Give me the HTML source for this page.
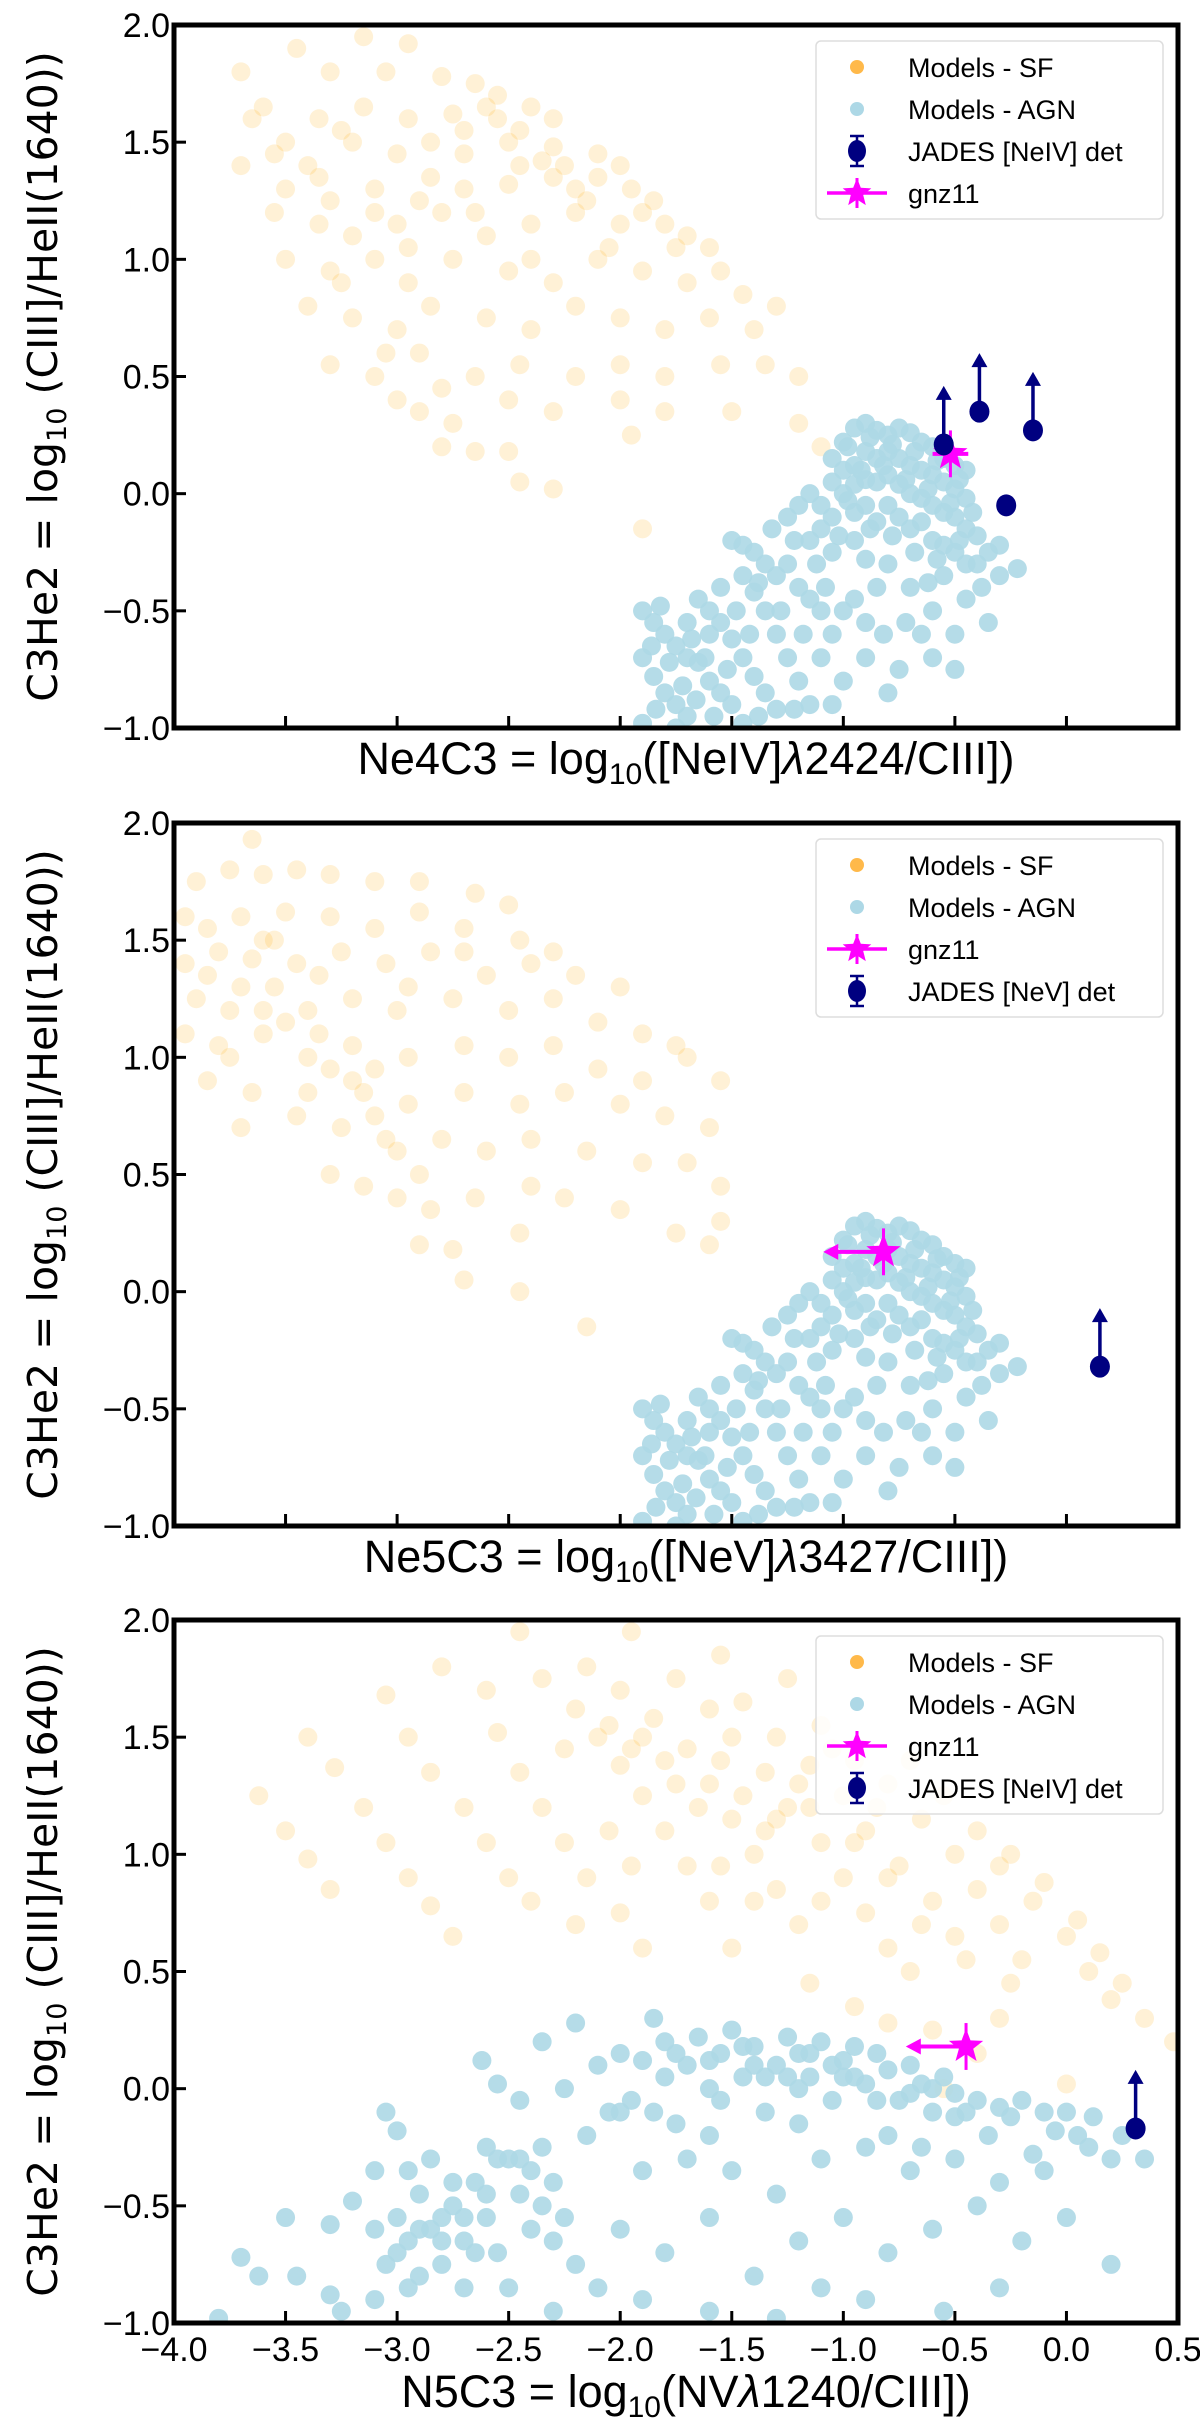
<!DOCTYPE html>
<html><head><meta charset="utf-8"><style>
html,body{margin:0;padding:0;background:#fff;}
svg{display:block;}
</style></head><body>
<svg id="fig" width="1200" height="2426" viewBox="0 0 1200 2426" xmlns="http://www.w3.org/2000/svg"></svg>
<script>
// ---- data (x, y in data units) ----
const xTicks = [-4.0,-3.5,-3.0,-2.5,-2.0,-1.5,-1.0,-0.5,0.0,0.5];
const yTicks = [-1.0,-0.5,0.0,0.5,1.0,1.5,2.0];
const xTickLabels = ["\u22124.0","\u22123.5","\u22123.0","\u22122.5","\u22122.0","\u22121.5","\u22121.0","\u22120.5","0.0","0.5"];
const yTickLabels = ["\u22121.0","\u22120.5","0.0","0.5","1.0","1.5","2.0"];

const sfPanel1 = [[-3.7,1.8],[-3.45,1.9],[-3.15,1.95],[-2.95,1.92],[-3.6,1.65],[-3.3,1.8],[-3.05,1.8],[-2.8,1.78],[-2.65,1.75],[-2.55,1.7],
[-3.65,1.6],[-3.5,1.5],[-3.35,1.6],[-3.15,1.65],[-2.95,1.6],[-2.75,1.62],[-2.55,1.6],[-2.4,1.65],[-2.3,1.6],
[-3.7,1.4],[-3.55,1.45],[-3.4,1.4],[-3.2,1.5],[-3.0,1.45],[-2.85,1.35],[-2.7,1.45],[-2.5,1.5],[-2.3,1.48],[-2.1,1.45],[-2.0,1.4],
[-3.5,1.3],[-3.35,1.35],[-3.1,1.3],[-2.9,1.25],[-2.7,1.3],[-2.5,1.32],[-2.3,1.35],[-2.1,1.35],[-1.95,1.3],[-1.85,1.25],
[-3.55,1.2],[-3.35,1.15],[-3.2,1.1],[-3.0,1.15],[-2.8,1.2],[-2.6,1.1],[-2.4,1.15],[-2.2,1.2],[-2.0,1.15],[-1.8,1.15],[-1.7,1.1],[-1.6,1.05],
[-3.5,1.0],[-3.3,0.95],[-3.1,1.0],[-2.95,0.9],[-2.75,1.0],[-2.5,0.95],[-2.3,0.9],[-2.1,1.0],[-1.9,0.95],[-1.7,0.9],[-1.55,0.95],[-1.45,0.85],
[-3.4,0.8],[-3.2,0.75],[-3.0,0.7],[-2.85,0.8],[-2.6,0.75],[-2.4,0.7],[-2.2,0.8],[-2.0,0.75],[-1.8,0.7],[-1.6,0.75],[-1.4,0.7],[-1.3,0.8],
[-3.3,0.55],[-3.1,0.5],[-2.9,0.6],[-2.65,0.5],[-2.45,0.55],[-2.2,0.5],[-2.0,0.55],[-1.8,0.5],[-1.55,0.55],[-1.35,0.55],[-1.2,0.5],
[-3.0,0.4],[-2.9,0.35],[-2.75,0.3],[-2.5,0.4],[-2.3,0.35],[-2.0,0.4],[-1.8,0.35],[-1.5,0.35],[-1.2,0.3],
[-2.8,0.2],[-2.65,0.18],[-2.5,0.18],[-2.45,0.05],[-2.3,0.02],[-1.95,0.25],[-1.9,-0.15],[-1.1,0.2],
[-3.25,1.55],[-2.85,1.5],[-2.45,1.4],[-2.2,1.3],[-2.65,1.2],[-2.95,1.05],[-3.3,1.25],[-2.4,1.0],[-2.05,1.05],
[-2.6,1.65],[-2.45,1.55],[-2.35,1.42],[-2.25,1.4],[-2.15,1.25],[-1.9,1.2],[-1.75,1.05],[-2.7,1.55],[-3.1,1.2],[-3.25,0.9],[-3.05,0.6],[-2.8,0.45]];

const agnPanel1 = [[-1.05,0.15],[-1.0,0.22],[-0.95,0.28],[-0.9,0.3],[-0.85,0.27],[-0.8,0.25],[-0.75,0.28],[-0.7,0.26],[-0.65,0.22],[-0.6,0.2],[-0.55,0.15],[-0.5,0.12],[-0.45,0.1],
[-1.05,0.05],[-1.0,0.1],[-0.95,0.12],[-0.9,0.18],[-0.85,0.15],[-0.8,0.18],[-0.75,0.15],[-0.7,0.12],[-0.65,0.1],[-0.6,0.08],[-0.55,0.05],[-0.5,0.02],[-0.45,-0.02],
[-1.0,0.0],[-0.95,0.04],[-0.9,0.06],[-0.85,0.05],[-0.8,0.08],[-0.75,0.04],[-0.7,0.0],[-0.65,-0.02],[-0.6,-0.05],[-0.55,-0.08],[-0.5,-0.1],[-0.45,-0.15],[-0.4,-0.18],
[-1.1,-0.05],[-1.05,-0.1],[-0.95,-0.08],[-0.9,-0.05],[-0.85,-0.12],[-0.8,-0.05],[-0.75,-0.1],[-0.7,-0.15],[-0.65,-0.12],[-0.6,-0.2],[-0.55,-0.22],[-0.5,-0.25],[-0.4,-0.3],[-0.3,-0.22],[-0.22,-0.32],[-0.35,-0.25],
[-1.15,0.0],[-1.2,-0.05],[-1.1,-0.15],[-1.15,-0.2],[-1.25,-0.1],[-1.05,-0.25],[-0.95,-0.2],[-0.9,-0.28],[-0.8,-0.3],
[-1.5,-0.2],[-1.45,-0.22],[-1.4,-0.25],[-1.35,-0.3],[-1.3,-0.35],[-1.25,-0.3],[-1.2,-0.4],[-1.15,-0.45],[-1.1,-0.5],[-1.45,-0.35],[-1.4,-0.42],[-1.35,-0.5],[-1.3,-0.6],[-1.25,-0.7],[-1.2,-0.8],[-1.15,-0.9],[-1.1,-0.7],[-1.05,-0.6],[-1.0,-0.5],[-0.95,-0.45],[-0.9,-0.55],[-0.85,-0.4],
[-1.9,-0.5],[-1.85,-0.55],[-1.8,-0.6],[-1.75,-0.65],[-1.7,-0.7],[-1.65,-0.72],[-1.6,-0.8],[-1.55,-0.85],[-1.9,-0.7],[-1.85,-0.78],[-1.8,-0.85],[-1.75,-0.9],[-1.7,-0.95],[-1.9,-0.98],[-1.75,-1.0],[-1.65,-0.45],[-1.6,-0.5],[-1.55,-0.55],[-1.5,-0.62],[-1.45,-0.7],[-1.4,-0.78],[-1.35,-0.85],[-1.3,-0.92],[-1.5,-0.9],[-1.45,-0.98],[-1.55,-0.4],[-1.6,-0.6],[-1.7,-0.55],
[-0.7,-0.4],[-0.6,-0.5],[-0.55,-0.35],[-0.5,-0.6],[-0.45,-0.45],[-0.5,-0.75],[-0.6,-0.7],[-0.65,-0.6],[-0.75,-0.75],[-0.8,-0.85],[-0.35,-0.55],[-0.45,-0.3],[-0.9,-0.7],[-1.0,-0.8],[-1.05,-0.9],
[-0.98,0.2],[-0.88,0.24],[-0.78,0.21],[-0.68,0.18],[-0.58,0.14],[-0.48,0.06],[-0.92,0.1],[-0.82,0.12],[-0.72,0.06],[-0.62,0.02],[-0.52,-0.04],[-0.42,-0.08],[-0.98,-0.03],[-0.88,-0.15],[-0.78,-0.18],[-0.68,-0.25],[-0.58,-0.28],[-0.48,-0.2],[-1.02,-0.18],[-1.12,-0.3],[-1.22,-0.2],[-1.32,-0.15],[-1.38,-0.38],[-1.28,-0.5],[-1.18,-0.6],[-1.08,-0.4],[-1.82,-0.48],[-1.78,-0.72],[-1.72,-0.82],[-1.68,-0.62],[-1.62,-0.7],[-1.58,-0.95],[-1.52,-0.75],[-1.42,-0.6],[-1.38,-0.95],[-1.86,-0.65],[-1.84,-0.92],[-1.66,-0.88],[-1.48,-0.5],[-1.22,-0.92],[-0.72,-0.55],[-0.82,-0.6],[-0.62,-0.38],[-0.38,-0.4],[-0.3,-0.35]];

const sfPanel2 = [[-3.65,1.93],[-3.9,1.75],[-3.75,1.8],[-3.6,1.78],[-3.45,1.8],[-3.3,1.78],[-3.1,1.75],[-2.9,1.75],[-2.65,1.7],[-2.5,1.65],
[-3.95,1.6],[-3.85,1.55],[-3.7,1.6],[-3.5,1.62],[-3.3,1.6],[-3.1,1.55],[-2.9,1.62],[-2.7,1.55],[-2.45,1.5],[-2.3,1.45],
[-3.95,1.4],[-3.8,1.45],[-3.65,1.42],[-3.45,1.4],[-3.25,1.45],[-3.05,1.4],[-2.85,1.45],[-2.6,1.35],[-2.4,1.4],[-2.2,1.35],[-2.0,1.3],
[-3.9,1.25],[-3.75,1.2],[-3.55,1.3],[-3.4,1.2],[-3.2,1.25],[-3.0,1.2],[-2.75,1.25],[-2.5,1.2],[-2.3,1.25],[-2.1,1.15],[-1.9,1.1],[-1.75,1.05],
[-3.95,1.1],[-3.8,1.05],[-3.6,1.1],[-3.4,1.0],[-3.2,1.05],[-2.95,1.0],[-2.7,1.05],[-2.5,1.0],[-2.3,1.05],[-2.1,0.95],[-1.9,0.9],[-1.7,1.0],[-1.55,0.9],
[-3.85,0.9],[-3.65,0.85],[-3.4,0.85],[-3.2,0.9],[-2.95,0.8],[-2.7,0.85],[-2.45,0.8],[-2.25,0.85],[-2.0,0.8],[-1.8,0.75],[-1.6,0.7],
[-3.7,0.7],[-3.45,0.75],[-3.25,0.7],[-3.05,0.65],[-2.8,0.65],[-2.6,0.6],[-2.4,0.65],[-2.15,0.6],[-1.9,0.55],[-1.7,0.55],[-1.55,0.45],
[-3.3,0.5],[-3.15,0.45],[-3.0,0.4],[-2.85,0.35],[-2.65,0.4],[-2.4,0.45],[-2.25,0.4],[-2.0,0.35],[-1.75,0.25],[-1.55,0.3],
[-2.9,0.2],[-2.75,0.18],[-2.45,0.25],[-2.7,0.05],[-2.45,0.0],[-2.15,-0.15],[-1.6,0.2],
[-3.55,1.5],[-3.35,1.35],[-3.6,1.2],[-3.1,0.95],[-2.95,1.3],[-2.7,1.45],
[-3.85,1.35],[-3.7,1.3],[-3.6,1.5],[-3.5,1.15],[-3.35,1.1],[-3.3,0.95],[-3.15,0.85],[-3.1,0.75],[-3.0,0.6],[-2.9,0.5],[-3.75,1.0]];

const agnPanel2 = agnPanel1.map(p => [p[0], p[1]]);

const sfPanel3 = [[-3.62,1.25],[-3.5,1.1],[-3.4,0.98],[-3.3,0.85],[-3.4,1.5],[-3.28,1.37],[-3.15,1.2],[-3.05,1.05],[-2.95,0.9],[-2.85,0.78],[-2.75,0.65],[-3.05,1.68],[-2.95,1.5],[-2.85,1.35],[-2.7,1.2],[-2.6,1.05],[-2.5,0.9],[-2.4,0.8],[-2.8,1.8],[-2.6,1.7],[-2.55,1.52],[-2.45,1.35],[-2.35,1.2],[-2.25,1.05],[-2.15,0.9],[-2.0,0.75],
[-2.35,1.75],[-2.2,1.62],[-2.1,1.5],[-2.0,1.38],[-1.9,1.25],[-1.8,1.1],[-1.7,0.95],[-1.6,0.8],[-2.15,1.8],[-2.0,1.7],[-1.85,1.58],[-1.7,1.45],[-1.6,1.3],[-1.5,1.15],[-1.4,1.0],[-1.3,0.85],[-1.2,0.7],[-1.75,1.75],[-1.6,1.62],[-1.5,1.5],[-1.35,1.35],[-1.25,1.2],[-1.1,1.05],[-1.0,0.9],[-0.9,0.75],[-0.8,0.6],[-1.45,1.65],[-1.3,1.5],[-1.15,1.38],[-1.0,1.25],[-0.9,1.1],[-0.75,0.95],[-0.6,0.8],[-0.5,0.65],[-1.1,1.55],[-0.95,1.4],[-0.8,1.3],[-0.65,1.15],[-0.5,1.0],[-0.4,0.85],[-0.3,0.7],[-0.2,0.55],[-0.7,1.4],[-0.55,1.25],[-0.4,1.1],[-0.3,0.95],[-0.15,0.8],[0.0,0.65],[0.1,0.5],[0.2,0.38],[-0.25,1.0],[-0.1,0.88],[0.05,0.72],[0.15,0.58],[0.25,0.45],[0.35,0.3],[0.48,0.2],[-1.95,1.95],[-2.45,1.95],[-1.55,1.85],[-1.25,1.75],[-2.2,0.7],[-1.9,0.6],[-1.5,0.6],[-1.15,0.45],[-0.95,0.35],[-0.8,0.28],[-0.6,0.25],[-0.3,0.3],[0.0,0.02],[-0.55,0.0],[-0.4,0.15],
[-2.05,1.55],[-1.8,1.4],[-1.65,1.2],[-1.35,1.1],[-1.2,1.3],[-0.85,1.2],[-1.05,1.45],[-1.9,1.5],[-2.25,1.45],
[-1.95,1.45],[-1.75,1.3],[-1.55,1.4],[-1.45,1.25],[-1.3,1.15],[-1.15,1.2],[-0.95,1.05],[-0.8,0.9],[-0.65,0.7],[-0.45,0.55],[-1.4,0.8],[-1.1,0.8],[-2.05,1.1],[-1.95,0.95],[-1.55,0.95],[-0.7,0.5],[-0.25,0.45]];

const agnPanel3 = [[-3.8,-0.98],[-3.7,-0.72],[-3.62,-0.8],[-3.5,-0.55],[-3.45,-0.8],[-3.3,-0.58],[-3.3,-0.88],[-3.25,-0.95],[-3.2,-0.48],[-3.1,-0.35],[-3.05,-0.1],[-3.0,-0.18],[-3.1,-0.6],[-3.05,-0.75],[-3.1,-0.9],[-3.0,-0.55],[-2.95,-0.65],[-2.9,-0.45],[-2.85,-0.6],[-2.8,-0.75],[-2.85,-0.3],[-2.75,-0.5],[-2.7,-0.65],[-2.65,-0.4],[-2.6,-0.55],[-2.55,-0.7],[-2.5,-0.3],[-2.45,-0.45],[-2.4,-0.6],[-2.35,-0.25],[-2.3,-0.4],[-2.25,-0.55],[-2.2,-0.75],[-2.6,-0.25],[-2.5,-0.85],[-2.7,-0.85],[-2.9,-0.8],[-2.62,0.12],[-2.55,0.02],[-2.45,-0.05],[-2.35,0.2],[-2.25,0.0],[-2.2,0.28],[-2.1,0.1],[-2.05,-0.1],[-2.0,0.15],[-1.95,-0.05],[-1.9,0.12],[-1.85,0.3],[-1.8,0.05],[-1.75,-0.15],[-1.7,0.1],[-1.65,0.22],[-1.6,0.0],[-1.55,0.15],[-1.5,0.25],[-1.45,0.05],[-1.4,0.18],[-1.35,-0.1],[-1.3,0.1],[-1.25,0.22],[-1.2,0.0],[-1.15,0.15],[-1.1,0.2],[-1.05,-0.05],[-1.0,0.12],[-0.95,0.18],[-0.9,0.02],[-0.85,0.15],[-0.8,0.08],[-0.75,-0.05],[-0.7,0.1],[-0.65,0.02],[-0.6,-0.1],[-0.55,0.05],[-0.5,-0.02],[-0.45,-0.1],[-0.4,-0.05],[-0.3,-0.08],[-0.2,-0.05],[-0.1,-0.1],[0.0,-0.1],[0.05,-0.2],[0.1,-0.25],[0.2,-0.3],[0.35,-0.3],[-0.1,-0.35],[-0.3,-0.4],[-0.5,-0.3],[-0.7,-0.35],[-0.9,-0.25],[-1.1,-0.3],[-1.3,-0.45],[-1.5,-0.35],[-1.7,-0.3],[-1.9,-0.35],[-2.0,-0.6],[-1.8,-0.7],[-1.6,-0.55],[-1.4,-0.8],[-1.2,-0.65],[-1.0,-0.55],[-0.8,-0.7],[-0.6,-0.6],[-0.4,-0.5],[-0.2,-0.65],[0.0,-0.55],[0.2,-0.75],[-0.3,-0.85],[-0.55,-0.95],[-0.9,-0.9],[-1.1,-0.85],[-1.3,-0.98],[-1.6,-0.95],[-1.9,-0.9],[-2.1,-0.85],[-2.3,-0.95],[-2.0,-0.1],[-1.6,-0.2],[-1.2,-0.15],[-0.8,-0.2],[-0.35,-0.2],
[-1.4,0.1],[-1.0,0.05],[-0.6,0.0],[-1.8,0.2],[-1.2,0.15],[-2.8,-0.55],[-2.4,-0.35],[-2.95,-0.35],
[-2.9,-0.6],[-2.8,-0.65],[-2.7,-0.55],[-2.6,-0.45],[-2.55,-0.3],[-2.45,-0.3],[-2.35,-0.5],[-2.3,-0.65],[-3.0,-0.7],[-2.95,-0.85],[-2.75,-0.4],[-2.65,-0.7],[-1.75,0.15],[-1.6,0.12],[-1.45,0.18],[-1.35,0.05],[-1.25,0.05],[-1.15,0.05],[-1.05,0.1],[-0.95,0.05],[-0.85,-0.05],[-0.7,-0.02],[-0.5,-0.12],[-0.25,-0.12],[-0.05,-0.18],[0.12,-0.12],[0.25,-0.2],[-1.85,-0.1],[-1.55,-0.05],[-2.15,-0.2],[-0.65,-0.25],[-0.15,-0.28]];

const jadesPanel1 = [[-0.55,0.21],[-0.39,0.35],[-0.15,0.27],[-0.27,-0.05]];
const jadesLimits1 = [true,true,true,false];
const jadesPanel2 = [[0.15,-0.32]];
const jadesLimits2 = [true];
const jadesPanel3 = [[0.31,-0.17]];
const jadesLimits3 = [true];
const gnz11Panel1 = [-0.52,0.17];
const gnz11Panel2 = [-0.82,0.17];
const gnz11Panel3 = [-0.45,0.18];

// ---- layout ----
const NS = "http://www.w3.org/2000/svg";
const svg = document.getElementById('fig');
const L = 174, R = 1178, H = 703;
const tops = [25, 823, 1620];
const xMin = -4, xMax = 0.5, yMin = -1, yMax = 2;
function mk(tag, attrs, parent){ const e=document.createElementNS(NS,tag); for(const k in attrs) e.setAttribute(k,attrs[k]); (parent||svg).appendChild(e); return e; }

function panel(idx, sf, agn, jades, limits, gnz, gnzLeftArrow, xlabelHTML, legendOrder, jadesLabel, showXTicks){
  const T = tops[idx], B = T + H;
  const sx = v => L + (v - xMin) / (xMax - xMin) * (R - L);
  const sy = v => B - (v - yMin) / (yMax - yMin) * H;
  const g = mk('g', {});
  
  
  const cid = 'clip' + idx;
  const cp = mk('clipPath', {id: cid}, g);
  mk('rect', {x:L, y:T, width:R-L, height:H}, cp);
  const plot = mk('g', {'clip-path': 'url(#'+cid+')'}, g);
  const sfG = mk('g', {}, plot);
  
  
  sf.forEach(p => {
    const c = mk('circle', {cx:sx(p[0]), cy:sy(p[1]), r:9.5, fill:'#FFA500', 'fill-opacity':0.16}, sfG);
    
    
  });
  const agnG = mk('g', {}, plot);
  
  
  agn.forEach(p => {
    const c = mk('circle', {cx:sx(p[0]), cy:sy(p[1]), r:9.5, fill:'#ADD8E6', 'fill-opacity':0.9}, agnG);
    
    
  });
  // gnz11
  const gx = sx(gnz[0]), gy = sy(gnz[1]);
  const gg = mk('g', {}, plot);
  
  
  if (gnzLeftArrow) {
    const ax = sx(gnz[0] - 0.27);
    mk('line', {x1:gx, y1:gy, x2:ax+10, y2:gy, stroke:'#FF00FF', 'stroke-width':4}, gg);
    mk('polygon', {points:`${ax},${gy} ${ax+15},${gy-8} ${ax+15},${gy+8}`, fill:'#FF00FF'}, gg);
  } else {
    mk('line', {x1:sx(gnz[0]-0.08), y1:gy, x2:sx(gnz[0]+0.08), y2:gy, stroke:'#FF00FF', 'stroke-width':4}, gg);
  }
  mk('line', {x1:gx, y1:sy(gnz[1]-0.1), x2:gx, y2:sy(gnz[1]+0.1), stroke:'#FF00FF', 'stroke-width':3}, gg);
  mk('path', {d:starPath(gx, gy, 18, 7.5), fill:'#FF00FF'}, gg);
  // JADES
  jades.forEach((p, i) => {
    const jx = sx(p[0]), jy = sy(p[1]);
    const jg = mk('g', {}, plot);
    
    
    if (limits[i]) {
      const ty = sy(p[1] + 0.25);
      mk('line', {x1:jx, y1:jy, x2:jx, y2:ty+10, stroke:'#000080', 'stroke-width':3.5}, jg);
      mk('polygon', {points:`${jx},${ty} ${jx-8},${ty+14} ${jx+8},${ty+14}`, fill:'#000080'}, jg);
    }
    mk('ellipse', {cx:jx, cy:jy, rx:10, ry:11, fill:'#000080'}, jg);
  });
  // ticks
  yTicks.forEach((v, i) => {
    const y = sy(v);
    mk('line', {x1:L, y1:y, x2:L+12, y2:y, stroke:'#000', 'stroke-width':3}, g);
    const t = mk('text', {x:L-4, y:y+12, 'text-anchor':'end', 'font-family':'Liberation Sans, sans-serif', 'font-size':34, fill:'#000'}, g);
    t.textContent = yTickLabels[i];
    
    
  });
  xTicks.forEach((v, i) => {
    const x = sx(v);
    if (v > xMin && v < xMax) mk('line', {x1:x, y1:B, x2:x, y2:B-12, stroke:'#000', 'stroke-width':3}, g);
    if (showXTicks) {
      const t = mk('text', {x:x, y:B+38, 'text-anchor':'middle', 'font-family':'Liberation Sans, sans-serif', 'font-size':34, fill:'#000'}, g);
      t.textContent = xTickLabels[i];
      
      
    }
  });
  mk('rect', {x:L, y:T, width:R-L, height:H, fill:'none', stroke:'#000', 'stroke-width':5}, g);
  // y label
  const yl = mk('text', {x:0, y:0, transform:`translate(57,${T+H/2}) rotate(-90)`, 'text-anchor':'middle', 'font-family':'DejaVu Sans, sans-serif', 'font-size':41, fill:'#000'}, g);
  yl.innerHTML = 'C3He2 = log<tspan font-size="27" dy="9">10</tspan><tspan dy="-9"> (CIII]/HeII(1640))</tspan>';
  
  
  // x label
  const xl = mk('text', {x:(L+R)/2 + 10, y:B + (showXTicks ? 84 : 46), 'text-anchor':'middle', 'font-family':'Liberation Sans, sans-serif', 'font-size':45, fill:'#000'}, g);
  xl.innerHTML = xlabelHTML;
  
  
  // legend
  const lg = mk('g', {}, g);
  
  
  const lx = 816, ly = T + 16;
  mk('rect', {x:lx, y:ly, width:347, height:178, rx:5, fill:'#fff', 'fill-opacity':0.85, stroke:'#ddd', 'stroke-width':1.5}, lg);
  legendOrder.forEach((k, i) => {
    const ey = ly + 26 + i * 42;
    const mx = 857;
    const eg = mk('g', {}, lg);
    
    
    if (k === 'sf') mk('circle', {cx:mx, cy:ey, r:7, fill:'#FFB94A'}, eg);
    if (k === 'agn') mk('circle', {cx:mx, cy:ey, r:7, fill:'#ADD8E6'}, eg);
    if (k === 'jades') {
      mk('line', {x1:mx, y1:ey-15, x2:mx, y2:ey+15, stroke:'#000080', 'stroke-width':2.5}, eg);
      mk('line', {x1:mx-7, y1:ey-15, x2:mx+7, y2:ey-15, stroke:'#000080', 'stroke-width':2.5}, eg);
      mk('line', {x1:mx-7, y1:ey+15, x2:mx+7, y2:ey+15, stroke:'#000080', 'stroke-width':2.5}, eg);
      mk('ellipse', {cx:mx, cy:ey, rx:9, ry:11, fill:'#000080'}, eg);
    }
    if (k === 'gnz') {
      mk('line', {x1:mx-30, y1:ey, x2:mx+30, y2:ey, stroke:'#FF00FF', 'stroke-width':3.5}, eg);
      mk('line', {x1:mx, y1:ey-15, x2:mx, y2:ey+15, stroke:'#FF00FF', 'stroke-width':3}, eg);
      mk('path', {d:starPath(mx, ey, 15, 6.5), fill:'#FF00FF'}, eg);
    }
    const labels = {sf:'Models -  SF', agn:'Models - AGN', jades:jadesLabel, gnz:'gnz11'};
    const t = mk('text', {x:908, y:ey+10, 'font-family':'Liberation Sans, sans-serif', 'font-size':27, fill:'#000'}, eg);
    t.textContent = labels[k];
  });
}
function starPath(cx, cy, ro, ri){
  let d = '';
  for (let i = 0; i < 10; i++) {
    const a = -Math.PI/2 + i * Math.PI/5, r = i % 2 ? ri : ro;
    d += (i ? 'L' : 'M') + (cx + r*Math.cos(a)).toFixed(1) + ',' + (cy + r*Math.sin(a)).toFixed(1);
  }
  return d + 'Z';
}
const lam = '<tspan font-style="italic">\u03bb</tspan>';
panel(0, sfPanel1, agnPanel1, jadesPanel1, jadesLimits1, gnz11Panel1, false,
  'Ne4C3 = log<tspan font-size="30" dy="10">10</tspan><tspan dy="-10">([NeIV]</tspan>' + lam + '2424/CIII])',
  ['sf','agn','jades','gnz'], 'JADES [NeIV] det', false);
panel(1, sfPanel2, agnPanel2, jadesPanel2, jadesLimits2, gnz11Panel2, true,
  'Ne5C3 = log<tspan font-size="30" dy="10">10</tspan><tspan dy="-10">([NeV]</tspan>' + lam + '3427/CIII])',
  ['sf','agn','gnz','jades'], 'JADES [NeV] det', false);
panel(2, sfPanel3, agnPanel3, jadesPanel3, jadesLimits3, gnz11Panel3, true,
  'N5C3 = log<tspan font-size="30" dy="10">10</tspan><tspan dy="-10">(NV</tspan>' + lam + '1240/CIII])',
  ['sf','agn','gnz','jades'], 'JADES [NeIV] det', true);
</script>
</body></html>
